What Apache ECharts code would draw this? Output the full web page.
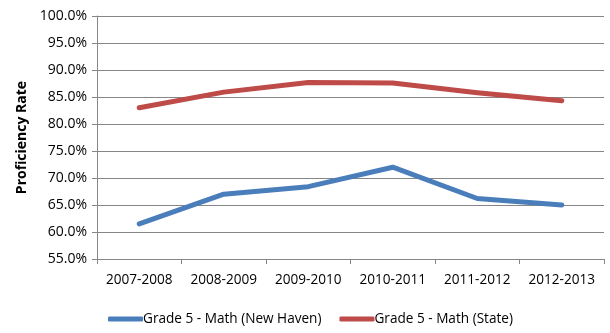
<!DOCTYPE html>
<html><head><meta charset="utf-8">
<script src="https://cdn.jsdelivr.net/npm/echarts@6/dist/echarts.min.js"></script>
<style>html,body{margin:0;padding:0;background:#fff}#c{width:610px;height:333px}</style>
</head><body><div id="c"></div>
<script>
const categories = ['2007-2008','2008-2009','2009-2010','2010-2011','2011-2012','2012-2013'];
const newHaven = [61.5, 67.0, 68.4, 72.0, 66.2, 65.0];
const state = [83.0, 85.9, 87.7, 87.6, 85.8, 84.3];
const seriesNames = ['Grade 5 - Math (New Haven)', 'Grade 5 - Math (State)'];
const font = 'Open Sans';
const chart = echarts.init(document.getElementById('c'), null, {renderer:'canvas'});
chart.setOption({
  animation:false,
  grid:{left:97, right:6, top:16, bottom:74},
  legend:{
    bottom:2, left:103, itemWidth:35, itemHeight:5, itemGap:18,
    icon:'roundRect',
    textStyle:{fontFamily:font, fontSize:13.6, color:'#000', padding:[0,0,0,-5]},
    data:seriesNames
  },
  xAxis:{
    type:'category', data:categories, boundaryGap:true,
    axisLine:{lineStyle:{color:'#868686'}},
    axisTick:{show:true, length:5, interval:0, lineStyle:{color:'#868686'}},
    axisLabel:{fontFamily:font, fontSize:13.6, color:'#000', margin:14, interval:0, hideOverlap:false}
  },
  yAxis:{
    type:'value', min:55, max:100, interval:5,
    name:'Proficiency Rate', nameLocation:'middle', nameGap:68,
    nameTextStyle:{fontFamily:font, fontSize:14, fontWeight:'bold', color:'#000'},
    axisLine:{show:true, lineStyle:{color:'#868686'}},
    axisTick:{show:true, length:5, inside:false, lineStyle:{color:'#868686'}},
    axisLabel:{fontFamily:font, fontSize:14, color:'#000', margin:10, formatter:v=>v.toFixed(1)+'%'},
    splitLine:{lineStyle:{color:'#868686', width:1}}
  },
  series:[
    {name:seriesNames[0], type:'line', data:newHaven, symbol:'none', lineStyle:{width:5, color:'#4A7EBB', cap:'round', join:'round'}, itemStyle:{color:'#4A7EBB'}},
    {name:seriesNames[1], type:'line', data:state, symbol:'none', lineStyle:{width:5, color:'#BE4B48', cap:'round', join:'round'}, itemStyle:{color:'#BE4B48'}}
  ]
});
</script></body></html>
